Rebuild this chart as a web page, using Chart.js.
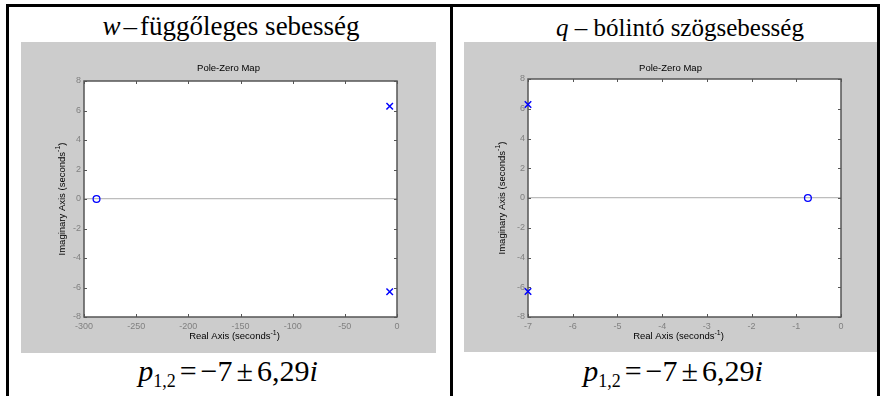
<!DOCTYPE html>
<html>
<head>
<meta charset="utf-8">
<script src="https://cdn.jsdelivr.net/npm/chart.js@4.4.1/dist/chart.umd.min.js"></script>
<style>
  html, body { margin: 0; padding: 0; background: #fff; }
  #page { position: relative; width: 883px; height: 396px; overflow: hidden; }
  .rule { position: absolute; background: #000; }
  .panel { position: absolute; background: #ccc; }
  .head, .formula {
    position: absolute; white-space: nowrap; line-height: 1; color: #000;
    font-family: "Liberation Serif", "Times New Roman", serif;
    transform: translateX(-50%);
  }
  .head { font-size: 27px; top: 13px; }
  .head.q { font-size: 25px; top: 15px; }
  .formula { font-size: 30px; top: 356px; }
  .formula sub { font-size: 18px; vertical-align: -6px; }
  .formula .op { margin: 0 4px; }
  .dash { margin: 0 3px; }
</style>
</head>
<body>
<div id="page">
  <div class="rule" style="left:6px; top:4px; width:874px; height:3px"></div>
  <div class="rule" style="left:6px; top:4px; width:3px; height:392px"></div>
  <div class="rule" style="left:450px; top:4px; width:3px; height:392px"></div>
  <div class="rule" style="left:877px; top:4px; width:3px; height:392px"></div>

  <div class="head" style="left:231px"><i>w</i><span class="dash">–</span>függőleges sebesség</div>
  <div class="head q" style="left:680px"><i>q</i> – bólintó szögsebesség</div>

  <div class="panel" style="left:21px; top:42px; width:415px; height:311px"><canvas id="pzW"></canvas></div>
  <div class="panel" style="left:464px; top:42px; width:413px; height:310px"><canvas id="pzQ"></canvas></div>

  <div class="formula" style="left:228px"><i>p</i><sub>1,2</sub><span class="op">=</span>−7<span class="op">±</span>6,29<i>i</i></div>
  <div class="formula" style="left:673px"><i>p</i><sub>1,2</sub><span class="op">=</span>−7<span class="op">±</span>6,29<i>i</i></div>
</div>

<script>
// axis ticks
const yTicks = [-8, -6, -4, -2, 0, 2, 4, 6, 8];
const wRealTicks = [-300, -250, -200, -150, -100, -50, 0];
const qRealTicks = [-7, -6, -5, -4, -3, -2, -1, 0];

// w: poles and zero
const wPoleRe = [-7, -7];
const wPoleIm = [6.29, -6.29];
const wZeroRe = [-288];
const wZeroIm = [0];

// q: poles and zero
const qPoleRe = [-7, -7];
const qPoleIm = [6.29, -6.29];
const qZeroRe = [-0.74];
const qZeroIm = [0];

const SANS = '"Liberation Sans", Arial, sans-serif';
const AXIS_COL = '#555';
const TICK_COL = '#808080';
const MARK_COL = '#0000ff';

function toPoints(re, im) {
    return re.map((x, i) => ({ x: x, y: im[i] }));
}

// text with a superscript, e.g. seconds^-1
function drawSupText(ctx, main, sup, tail, x, y, size) {
    const f1 = size + 'px ' + SANS;
    const f2 = Math.round(size * 0.7) + 'px ' + SANS;
    ctx.font = f1;
    const w1 = ctx.measureText(main).width;
    const w3 = ctx.measureText(tail).width;
    ctx.font = f2;
    const w2 = ctx.measureText(sup).width;
    let cx = x - (w1 + w2 + w3) / 2;
    ctx.textAlign = 'left';
    ctx.textBaseline = 'middle';
    ctx.font = f1;
    ctx.fillText(main, cx, y);
    cx += w1;
    ctx.font = f2;
    ctx.fillText(sup, cx, y - size * 0.4);
    cx += w2;
    ctx.font = f1;
    ctx.fillText(tail, cx, y);
}

const pzFrame = {
    id: 'pzFrame',
    beforeDraw(chart) {
        const { ctx, chartArea: a } = chart;
        ctx.save();
        ctx.fillStyle = '#fff';
        ctx.fillRect(a.left, a.top, a.right - a.left, a.bottom - a.top);
        ctx.restore();
    },
    beforeDatasetsDraw(chart) {
        const { ctx, chartArea: a, scales } = chart;
        ctx.save();
        ctx.strokeStyle = AXIS_COL;
        ctx.lineWidth = 1.5;
        ctx.strokeRect(a.left, a.top, a.right - a.left, a.bottom - a.top);
        // inward tick marks on all four sides
        ctx.lineWidth = 1;
        ctx.beginPath();
        scales.x.ticks.forEach(t => {
            const px = Math.round(scales.x.getPixelForValue(t.value)) + 0.5;
            ctx.moveTo(px, a.bottom); ctx.lineTo(px, a.bottom - 3);
            ctx.moveTo(px, a.top); ctx.lineTo(px, a.top + 3);
        });
        scales.y.ticks.forEach(t => {
            const py = Math.round(scales.y.getPixelForValue(t.value)) + 0.5;
            ctx.moveTo(a.left, py); ctx.lineTo(a.left + 3, py);
            ctx.moveTo(a.right, py); ctx.lineTo(a.right - 3, py);
        });
        ctx.stroke();
        ctx.restore();
    },
    afterDraw(chart) {
        const { ctx, chartArea: a } = chart;
        const o = chart.options.plugins.pzFrame;
        ctx.save();
        ctx.fillStyle = '#000';
        ctx.font = '9.5px ' + SANS;
        ctx.textAlign = 'center';
        ctx.textBaseline = 'middle';
        ctx.fillText('Pole-Zero Map', chart.width / 2, 26);

        drawSupText(ctx, 'Real Axis (seconds', '-1', ')', (a.left + a.right) / 2 + o.xTitleShift, a.bottom + 19.5, 9.5);

        ctx.translate(a.left - o.yTitleGap, (a.top + a.bottom) / 2);
        ctx.rotate(-Math.PI / 2);
        drawSupText(ctx, 'Imaginary Axis (seconds', '-1', ')', 0, 0, 9.5);
        ctx.restore();
    }
};

function makePzmap(id, zeros, poles, realTicks, pad, yWidth, xHeight, frameOpts) {
    const xmin = realTicks[0];
    const xmax = realTicks[realTicks.length - 1];
    return new Chart(document.getElementById(id), {
        type: 'scatter',
        data: {
            datasets: [
                {
                    label: 'zeros',
                    data: zeros,
                    pointStyle: 'circle',
                    pointRadius: 3.4,
                    pointBorderWidth: 1.3,
                    pointBorderColor: MARK_COL,
                    pointBackgroundColor: 'rgba(0,0,0,0)',
                    clip: false,
                },
                {
                    label: 'poles',
                    data: poles,
                    pointStyle: 'crossRot',
                    pointRadius: 4.6,
                    pointBorderWidth: 1.5,
                    pointBorderColor: MARK_COL,
                    clip: false,
                },
            ],
        },
        options: {
            responsive: true,
            maintainAspectRatio: false,
            animation: false,
            events: [],
            layout: { padding: pad },
            plugins: {
                legend: { display: false },
                tooltip: { enabled: false },
                pzFrame: frameOpts,
            },
            scales: {
                x: {
                    type: 'linear',
                    min: xmin,
                    max: xmax,
                    afterBuildTicks: s => { s.ticks = realTicks.map(v => ({ value: v })); },
                    afterFit: s => { s.height = xHeight; },
                    grid: { display: false, drawTicks: false },
                    border: { display: false },
                    ticks: { color: TICK_COL, padding: 4, maxRotation: 0, autoSkip: false, font: { family: SANS, size: 9 } },
                },
                y: {
                    type: 'linear',
                    min: yTicks[0],
                    max: yTicks[yTicks.length - 1],
                    afterBuildTicks: s => { s.ticks = yTicks.map(v => ({ value: v })); },
                    afterFit: s => { s.width = yWidth; },
                    grid: {
                        drawTicks: false,
                        color: c => (c.tick && c.tick.value === 0 ? '#bdbdbd' : 'rgba(0,0,0,0)'),
                        lineWidth: 1.2,
                    },
                    border: { display: false },
                    ticks: { color: TICK_COL, padding: 3, autoSkip: false, font: { family: SANS, size: 9 } },
                },
            },
        },
        plugins: [pzFrame],
    });
}

makePzmap('pzW', toPoints(wZeroRe, wZeroIm), toPoints(wPoleRe, wPoleIm), wRealTicks,
    { top: 39, right: 39, left: 0, bottom: 0 }, 63, 36, { xTitleShift: -6, yTitleGap: 22 });
makePzmap('pzQ', toPoints(qZeroRe, qZeroIm), toPoints(qPoleRe, qPoleIm), qRealTicks,
    { top: 37, right: 36, left: 0, bottom: 0 }, 64, 35, { xTitleShift: -6, yTitleGap: 26 });
</script>
</body>
</html>
